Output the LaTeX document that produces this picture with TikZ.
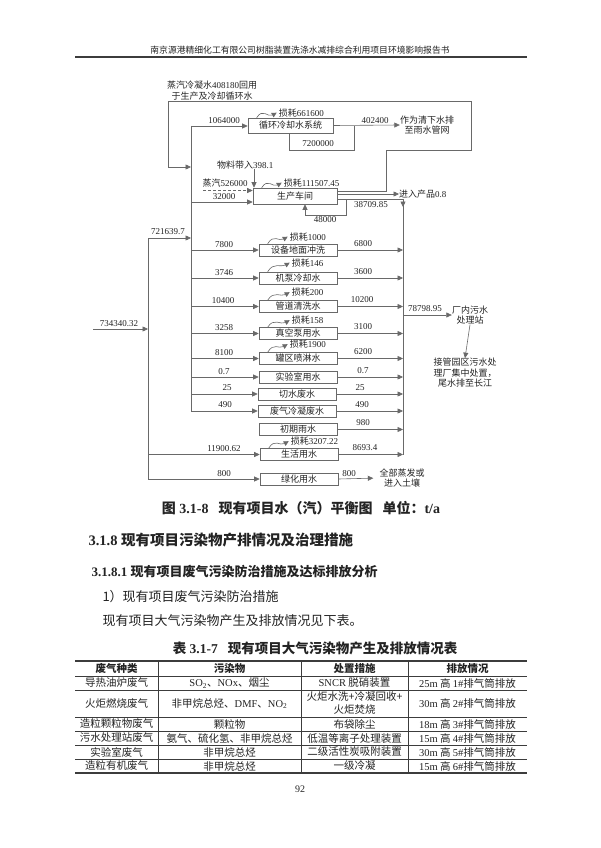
\documentclass[tikz,border=0pt]{standalone}
\usepackage{fontspec}
\setmainfont{Liberation Serif}
\newfontfamily\cjk{Noto Sans CJK SC}
\usetikzlibrary{arrows.meta,calc}
\definecolor{linegray}{RGB}{105,105,105}
\definecolor{inkgray}{RGB}{35,35,35}
\definecolor{rulegray}{RGB}{60,60,60}

\begin{document}
\begin{tikzpicture}[x=1pt,y=-1pt,
    unitbox/.style={rectangle, draw=linegray, line width=0.6pt, minimum width=78pt,
      minimum height=12pt, inner sep=0pt, font=\cjk\fontsize{9}{10}\selectfont, text=inkgray},
    val/.style={font=\fontsize{9}{10}\selectfont, inner sep=0pt, text=inkgray},
    note/.style={font=\cjk\fontsize{9}{10.5}\selectfont, align=center, inner sep=0pt, text=inkgray},
    wire/.style={draw=linegray, line width=0.6pt},
    flow/.style={wire, -{Triangle[length=5.5pt,width=5pt]}},
    loss/.style={wire, -{Triangle[length=5pt,width=5pt]}},
    cell/.style={font=\cjk\fontsize{10.5}{13}\selectfont, align=center, inner sep=0pt, text=inkgray},
    headcell/.style={cell, font=\cjk\bfseries\fontsize{10.5}{13}\selectfont},
    rule/.style={draw=rulegray, line width=0.6pt}
  ]
    \fill[white] (0,0) rectangle (600,848);
    \useasboundingbox (0,0) rectangle (600,848);

    % page header
    \node[font=\cjk\fontsize{8.8}{10}\selectfont, text=inkgray] (hdr) at (300,50)
      {南京源港精细化工有限公司树脂装置洗涤水减排综合利用项目环境影响报告书};
    \draw[rulegray, line width=1.5pt] (75,57) -- (527,57);

    % units
    \node[unitbox, minimum width=85pt, minimum height=15pt] (xhls) at (290.5,125.5) {循环冷却水系统};
    \node[unitbox, minimum width=84pt, minimum height=16pt] (scjj) at (295,196) {生产车间};
    \node[unitbox] (sbdm) at (298,250) {设备地面冲洗};
    \node[unitbox] (jbls) at (298,278) {机泵冷却水};
    \node[unitbox] (gdqx) at (298,306.5) {管道清洗水};
    \node[unitbox] (zkb) at (298,333.5) {真空泵用水};
    \node[unitbox] (gqpl) at (298,358.5) {罐区喷淋水};
    \node[unitbox] (sys) at (298,377) {实验室用水};
    \node[unitbox] (qsfs) at (297,394) {切水废水};
    \node[unitbox] (fqln) at (297,411) {废气冷凝废水};
    \node[unitbox] (cqys) at (298,429.5) {初期雨水};
    \node[unitbox] (shys) at (299,454.5) {生活用水};
    \node[unitbox] (lhys) at (299,479) {绿化用水};

    % end points
    \node[note] (qxs) at (427,125) {作为清下水排\\至雨水管网};
    \node[note, anchor=west] (cp) at (399,194) {进入产品{\rmfamily 0.8}};
    \node[note] (wscl) at (470,315) {厂内污水\\处理站};
    \node[note] (jgyq) at (465,373) {接管园区污水处\\理厂集中处置，\\尾水排至长江};
    \node[note] (zfst) at (402,478) {全部蒸发或\\进入土壤};
    \node[note] (zqln) at (212,90.5) {蒸汽冷凝水{\rmfamily 408180}回用\\于生产及冷却循环水};
    \node[val, anchor=west] (wl) at (217,165) {{\cjk 物料带入}398.1};
    \node[val] (zq) at (225,183) {{\cjk 蒸汽}526000};

    % buses
    \coordinate (busA) at (191,126);
    \coordinate (busB) at (191,411);
    \coordinate (outA) at (148,238);
    \coordinate (outB) at (148,479);
    \coordinate (colA) at (403,199);
    \coordinate (colB) at (403,455);
    \coordinate (colTip) at (403,207);
    \coordinate (inW) at (93,329);
    \draw[wire] (busA) -- (busB);
    \draw[wire] (outA) -- (outB);
    \draw[wire] (colA) -- (colB);
    \draw[flow] (inW) -- (inW -| outA);
    \draw[flow] (outA) -- (outA -| busA);

    % supply lines
    \draw[flow] (busA) -- (busA -| xhls.west);
    \coordinate (s32) at (191,202);
    \draw[flow] (s32) -- (s32 -| scjj.west);
    \draw[flow] (busA |- sbdm) -- (sbdm.west);
    \draw[flow] (busA |- jbls) -- (jbls.west);
    \draw[flow] (busA |- gdqx) -- (gdqx.west);
    \draw[flow] (busA |- zkb) -- (zkb.west);
    \draw[flow] (busA |- gqpl) -- (gqpl.west);
    \draw[flow] (busA |- sys) -- (sys.west);
    \draw[flow] (busA |- qsfs) -- (qsfs.west);
    \draw[flow] (busB) -- (fqln.west);
    \draw[flow] (outA |- shys) -- (shys.west);
    \draw[flow] (outB) -- (lhys.west);

    % discharge lines
    \draw[flow] (sbdm.east) -- (sbdm.east -| colA);
    \draw[flow] (jbls.east) -- (jbls.east -| colA);
    \draw[flow] (gdqx.east) -- (gdqx.east -| colA);
    \draw[flow] (zkb.east) -- (zkb.east -| colA);
    \draw[flow] (gqpl.east) -- (gqpl.east -| colA);
    \draw[flow] (sys.east) -- (sys.east -| colA);
    \draw[flow] (qsfs.east) -- (qsfs.east -| colA);
    \draw[flow] (fqln.east) -- (fqln.east -| colA);
    \draw[flow] (cqys.east) -- (cqys.east -| colA);
    \draw[flow] (shys.east) -- (shys.east -| colA);
    \draw[flow, shorten >=6pt] (lhys.east) -- (zfst.west);
    \draw[flow] (colA |- wscl.west) -- (wscl.west);
    \draw[flow] (wscl.south) -- (jgyq.north);

    % cooling water system
    \draw[flow] (xhls.east) -- (qxs.west);
    \coordinate (cw1) at (354,126);
    \coordinate (cw2) at (354,150);
    \coordinate (cw3) at (289,150);
    \draw[wire] (cw1) -- (cw2) -- (cw3) -- (cw3 |- xhls.south);

    % production workshop
    \coordinate (wlA) at (254,169);
    \draw[flow] (wlA) -- (wlA |- scjj.north);
    \coordinate (zqA) at (203,190.5);
    \draw[flow, densely dashed] (zqA) -- (zqA -| scjj.west);
    \draw[flow] (scjj.east |- cp.west) -- (cp.west);
    \draw[wire] (scjj.east |- colA) -- (colA);
    \draw[flow] (colA) -- (colTip);
    \coordinate (r48a) at (346,199);
    \coordinate (r48b) at (346,215);
    \coordinate (r48c) at (305,215);
    \draw[wire] (r48a) -- (r48b) -- (r48c);
    \draw[flow] (r48c) -- (r48c |- scjj.south);
    \coordinate (lp1) at (386,191);
    \coordinate (lp2) at (386,150);
    \coordinate (lp3) at (471,150);
    \coordinate (lp4) at (471,101);
    \coordinate (lp5) at (168,101);
    \coordinate (lp6) at (168,167);
    \draw[flow] (scjj.east |- lp1) -- (lp1) -- (lp2) -- (lp3) -- (lp4) -- (lp5) -- (lp6) -- (lp6 -| busA);

    % losses
    \node[val, anchor=west] (lsxh) at ($(xhls.north west)+(31,-5)$) {{\cjk 损耗}661600};
    \node[val, anchor=west] (lssc) at ($(scjj.north west)+(31,-5)$) {{\cjk 损耗}111507.45};
    \node[val, anchor=west] (lssb) at ($(sbdm.north west)+(31,-7)$) {{\cjk 损耗}1000};
    \node[val, anchor=west] (lsjb) at ($(jbls.north west)+(33,-9)$) {{\cjk 损耗}146};
    \node[val, anchor=west] (lsgd) at ($(gdqx.north west)+(33,-8)$) {{\cjk 损耗}200};
    \node[val, anchor=west] (lszk) at ($(zkb.north west)+(33,-7)$) {{\cjk 损耗}158};
    \node[val, anchor=west] (lsgq) at ($(gqpl.north west)+(31,-8)$) {{\cjk 损耗}1900};
    \node[val, anchor=west] (lssh) at ($(shys.north west)+(31,-7)$) {{\cjk 损耗}3207.22};
    \draw[loss] ($(xhls.north west)+(9,0)$) .. controls +(6,-10) and +(-9,5) .. ([xshift=-2pt]lsxh.west);
    \draw[loss] ($(scjj.north west)+(9,0)$) .. controls +(6,-10) and +(-9,5) .. ([xshift=-2pt]lssc.west);
    \draw[loss] ($(sbdm.north west)+(9,0)$) .. controls +(6,-10) and +(-9,5) .. ([xshift=-2pt]lssb.west);
    \draw[loss] ($(jbls.north west)+(9,0)$) .. controls +(6,-10) and +(-9,5) .. ([xshift=-2pt]lsjb.west);
    \draw[loss] ($(gdqx.north west)+(9,0)$) .. controls +(6,-10) and +(-9,5) .. ([xshift=-2pt]lsgd.west);
    \draw[loss] ($(zkb.north west)+(9,0)$) .. controls +(6,-10) and +(-9,5) .. ([xshift=-2pt]lszk.west);
    \draw[loss] ($(gqpl.north west)+(9,0)$) .. controls +(6,-10) and +(-9,5) .. ([xshift=-2pt]lsgq.west);
    \draw[loss] ($(shys.north west)+(9,0)$) .. controls +(6,-10) and +(-9,5) .. ([xshift=-2pt]lssh.west);

    % flow values
    \node[val] (v1) at (224,121) {1064000};
    \node[val] (v2) at (375,121) {402400};
    \node[val] (v3) at (318,144) {7200000};
    \node[val] (v4) at (224,197) {32000};
    \node[val] (v5) at (371,205) {38709.85};
    \node[val] (v6) at (325,220) {48000};
    \node[val] (v7) at (168,232) {721639.7};
    \node[val] (v8) at (119,324) {734340.32};
    \node[val] (v9) at (224,245) {7800};
    \node[val] (v10) at (224,273) {3746};
    \node[val] (v11) at (223,301) {10400};
    \node[val] (v12) at (224,328) {3258};
    \node[val] (v13) at (224,353) {8100};
    \node[val] (v14) at (224,372) {0.7};
    \node[val] (v15) at (227,388) {25};
    \node[val] (v16) at (225,405) {490};
    \node[val] (v17) at (224,449) {11900.62};
    \node[val] (v18) at (224,474) {800};
    \node[val] (v19) at (363,244) {6800};
    \node[val] (v20) at (363,272) {3600};
    \node[val] (v21) at (362,300) {10200};
    \node[val] (v22) at (363,327) {3100};
    \node[val] (v23) at (363,352) {6200};
    \node[val] (v24) at (363,371) {0.7};
    \node[val] (v25) at (360,388) {25};
    \node[val] (v26) at (362,405) {490};
    \node[val] (v27) at (363,423) {980};
    \node[val] (v28) at (365,448) {8693.4};
    \node[val] (v29) at (349,474) {800};
    \node[val] (v30) at (425,309) {78798.95};

    % caption and text
    \node[font=\fontsize{14}{16}\selectfont, text=inkgray] (figcap) at (301,508)
      {{\cjk\bfseries 图} {\bfseries 3.1-8}\hspace{10pt}{\cjk\bfseries 现有项目水（汽）平衡图}\hspace{10pt}{\cjk\bfseries 单位：}{\bfseries t/a}};
    \node[anchor=west, font=\fontsize{14.5}{16}\selectfont, text=inkgray] (sec1) at (85,540)
      {{\bfseries 3.1.8} {\cjk\bfseries 现有项目污染物产排情况及治理措施}};
    \node[anchor=west, font=\fontsize{13}{15}\selectfont, text=inkgray] (sec2) at (88,572)
      {{\bfseries 3.1.8.1} {\cjk\bfseries 现有项目废气污染防治措施及达标排放分析}};
    \node[anchor=west, font=\cjk\fontsize{13}{15}\selectfont, text=inkgray] (par1) at (99,597)
      {1）现有项目废气污染防治措施};
    \node[anchor=west, font=\cjk\fontsize{13}{15}\selectfont, text=inkgray] (par2) at (99,621)
      {现有项目大气污染物产生及排放情况见下表。};
    \node[font=\fontsize{13.5}{15}\selectfont, text=inkgray] (tabcap) at (315,648)
      {{\cjk\bfseries 表} {\bfseries 3.1-7}\hspace{10pt}{\cjk\bfseries 现有项目大气污染物产生及排放情况表}};

    % table
    \draw[rulegray, line width=1.4pt] (75,661) -- (527,661);
    \draw[rule] (75,676) -- (527,676);
    \draw[rule] (75,690) -- (527,690);
    \draw[rule] (75,717) -- (527,717);
    \draw[rule] (75,731) -- (527,731);
    \draw[rule] (75,745) -- (527,745);
    \draw[rule] (75,759) -- (527,759);
    \draw[rulegray, line width=1.4pt] (75,773) -- (527,773);
    \draw[rule] (158,661) -- (158,773);
    \draw[rule] (301,661) -- (301,773);
    \draw[rule] (408,661) -- (408,773);

    \node[headcell] (h1) at (116.5,668.5) {废气种类};
    \node[headcell] (h2) at (229.5,668.5) {污染物};
    \node[headcell] (h3) at (354.5,668.5) {处置措施};
    \node[headcell] (h4) at (467.5,668.5) {排放情况};

    \node[cell] (a1) at (116.5,683) {导热油炉废气};
    \node[cell] (a2) at (229.5,683) {{\rmfamily SO\textsubscript{2}}、{\rmfamily NOx}、烟尘};
    \node[cell] (a3) at (354.5,683) {{\rmfamily SNCR} 脱硝装置};
    \node[cell] (a4) at (467.5,683) {{\rmfamily 25m} 高 {\rmfamily 1\#}排气筒排放};

    \node[cell] (b1) at (116.5,703.5) {火炬燃烧废气};
    \node[cell] (b2) at (229.5,703.5) {非甲烷总烃、{\rmfamily DMF}、{\rmfamily NO\textsubscript{2}}};
    \node[cell] (b3) at (354.5,703.5) {火炬水洗+冷凝回收+\\火炬焚烧};
    \node[cell] (b4) at (467.5,703.5) {{\rmfamily 30m} 高 {\rmfamily 2\#}排气筒排放};

    \node[cell] (c1) at (116.5,724) {造粒颗粒物废气};
    \node[cell] (c2) at (229.5,724) {颗粒物};
    \node[cell] (c3) at (354.5,724) {布袋除尘};
    \node[cell] (c4) at (467.5,724) {{\rmfamily 18m} 高 {\rmfamily 3\#}排气筒排放};

    \node[cell] (d1) at (116.5,738) {污水处理站废气};
    \node[cell] (d2) at (229.5,738) {氨气、硫化氢、非甲烷总烃};
    \node[cell] (d3) at (354.5,738) {低温等离子处理装置};
    \node[cell] (d4) at (467.5,738) {{\rmfamily 15m} 高 {\rmfamily 4\#}排气筒排放};

    \node[cell] (e1) at (116.5,752) {实验室废气};
    \node[cell] (e2) at (229.5,752) {非甲烷总烃};
    \node[cell] (e3) at (354.5,752) {二级活性炭吸附装置};
    \node[cell] (e4) at (467.5,752) {{\rmfamily 30m} 高 {\rmfamily 5\#}排气筒排放};

    \node[cell] (f1) at (116.5,766) {造粒有机废气};
    \node[cell] (f2) at (229.5,766) {非甲烷总烃};
    \node[cell] (f3) at (354.5,766) {一级冷凝};
    \node[cell] (f4) at (467.5,766) {{\rmfamily 15m} 高 {\rmfamily 6\#}排气筒排放};

    \node[font=\fontsize{10}{12}\selectfont, text=inkgray] (pgno) at (300,789) {92};
  \end{tikzpicture}
\end{document}
